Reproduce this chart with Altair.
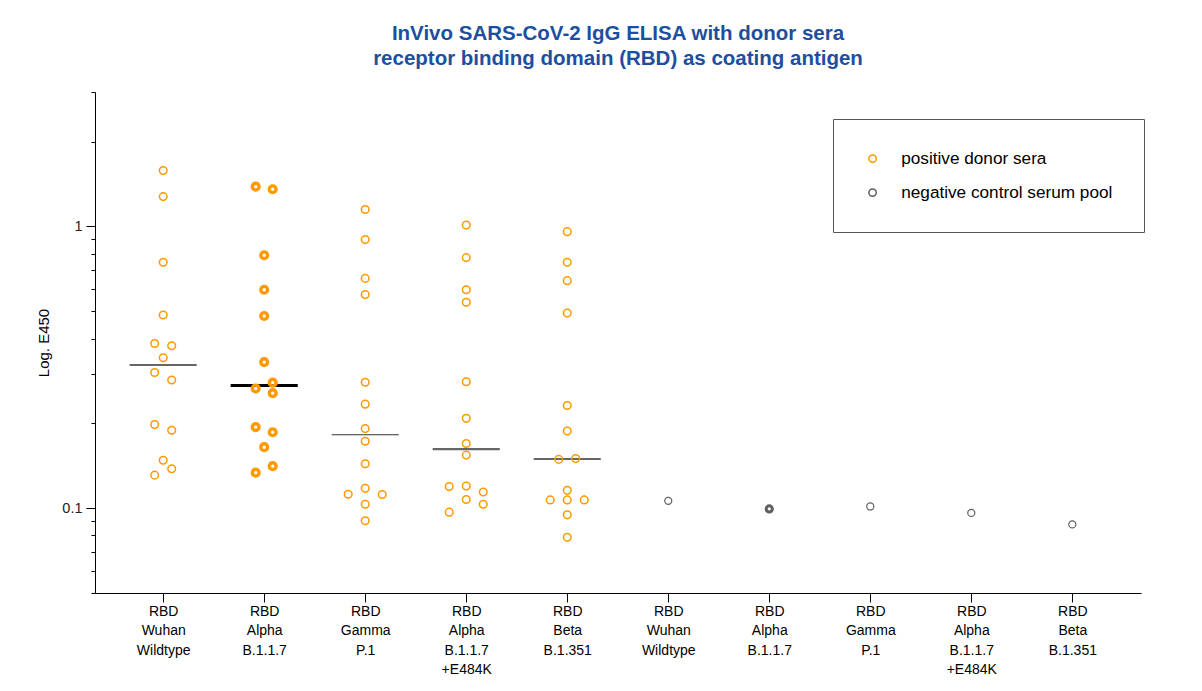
import altair as alt
import pandas as pd

# ---------------- data ----------------
tick_labels = ["RBD|Wuhan|Wildtype", "RBD|Alpha|B.1.1.7", "RBD|Gamma|P.1",
               "RBD|Alpha|B.1.1.7|+E484K", "RBD|Beta|B.1.351",
               "RBD|Wuhan|Wildtype", "RBD|Alpha|B.1.1.7", "RBD|Gamma|P.1",
               "RBD|Alpha|B.1.1.7|+E484K", "RBD|Beta|B.1.351"]
series_names = ["positive donor sera", "negative control serum pool"]

pos_wuhan = [1.58, 1.276, 0.746, 0.485, 0.384, 0.377, 0.342, 0.303, 0.285, 0.198, 0.189, 0.148, 0.138, 0.131]
pos_wuhan_slot = [0, 0, 0, 0, -1, 1, 0, -1, 1, -1, 1, 0, 1, -1]

pos_alpha = [1.384, 1.355, 0.790, 0.596, 0.481, 0.330, 0.279, 0.266, 0.256, 0.194, 0.186, 0.1646, 0.141, 0.1337]
pos_alpha_slot = [-1, 1, 0, 0, 0, 0, 1, -1, 1, -1, 1, 0, 1, -1]

pos_gamma = [1.148, 0.898, 0.654, 0.573, 0.280, 0.234, 0.1916, 0.1729, 0.1438, 0.1176, 0.112, 0.1118, 0.1033, 0.0902]
pos_gamma_slot = [0, 0, 0, 0, 0, 0, 0, 0, 0, 0, -2, 2, 0, 0]

pos_alpha_e484k = [1.011, 0.775, 0.596, 0.538, 0.281, 0.2084, 0.1696, 0.1543, 0.1193, 0.1198, 0.1142, 0.1073, 0.1033, 0.0968]
pos_alpha_e484k_slot = [0, 0, 0, 0, 0, 0, 0, 0, -2, 0, 2, 0, 2, -2]

pos_beta = [0.958, 0.746, 0.642, 0.493, 0.2315, 0.188, 0.149, 0.150, 0.1157, 0.107, 0.107, 0.107, 0.0947, 0.0788]
pos_beta_slot = [0, 0, 0, 0, 0, 0, -1, 1, 0, -2, 0, 2, 0, 0]

neg_pool = [0.1062, 0.0994, 0.1014, 0.0962, 0.0876]

y_major = [0.1, 1]
y_minor = [0.05, 0.06, 0.07, 0.08, 0.09, 0.2, 0.3, 0.4, 0.5, 0.6, 0.7, 0.8, 0.9, 2, 3]

# ---------------- table ----------------
pos_values = [pos_wuhan, pos_alpha, pos_gamma, pos_alpha_e484k, pos_beta]
pos_slots = [pos_wuhan_slot, pos_alpha_slot, pos_gamma_slot, pos_alpha_e484k_slot, pos_beta_slot]
rows = []
for i, (vals, slots) in enumerate(zip(pos_values, pos_slots)):
    for v, s in zip(vals, slots):
        rows.append({"idx": i, "value": v, "slot": s, "group": series_names[0]})
for j, v in enumerate(neg_pool):
    rows.append({"idx": 5 + j, "value": v, "slot": 0, "group": series_names[1]})
df = pd.DataFrame(rows)

label_array = "[" + ",".join("'" + t + "'" for t in tick_labels) + "]"
FONT = "Liberation Sans"

x_scale = alt.Scale(domain=[-0.675, 9.68], nice=False, zero=False)
y_scale = alt.Scale(type="log", domain=[0.05, 3], nice=False)

x_axis = alt.Axis(
    values=list(range(10)),
    labelExpr=f"split({label_array}[datum.value], '|')",
    title=None, grid=False, labelAngle=0, labelFont=FONT, labelFontSize=14,
    labelColor="black", labelLineHeight=19.5, labelBaseline="top", labelPadding=2,
    tickSize=9, tickColor="black", domainColor="black", labelOverlap=False,
    labelFlush=False,
)
y_axis = alt.Axis(
    values=y_minor + y_major,
    labelExpr="datum.value == 1 ? '1' : (datum.value == 0.1 ? '0.1' : '')",
    tickSize={"condition": {"test": "datum.value == 1 || datum.value == 0.1", "value": 9}, "value": 4},
    title="Log. E450", titleFont=FONT, titleFontSize=15, titleFontWeight="normal",
    titleColor="black", titlePadding=10, grid=False, labelFont=FONT, labelFontSize=14.5,
    labelColor="#222222", labelPadding=4, tickColor="black", domainColor="black",
    labelOverlap=False,
)

base = alt.Chart(df)

medians = base.transform_filter(
    alt.datum.group == series_names[0]
).transform_aggregate(
    med="median(value)", groupby=["idx"]
).transform_calculate(
    x1="datum.idx - 0.332", x2="datum.idx + 0.332"
).mark_rule().encode(
    x=alt.X("x1:Q", scale=x_scale, axis=x_axis),
    x2="x2:Q",
    y=alt.Y("med:Q", scale=y_scale, axis=y_axis),
    color={"value": "#333333", "condition": [
        {"test": "datum.idx == 1", "value": "#000000"},
        {"test": "datum.idx == 3", "value": "#666666"}]},
    strokeWidth={"value": 1.5, "condition": [
        {"test": "datum.idx == 1", "value": 3.2},
        {"test": "datum.idx == 3", "value": 2.2},
        {"test": "datum.idx == 2", "value": 1.2}]},
)

points = base.transform_calculate(
    xpos="datum.idx + datum.slot * 0.0842"
).mark_point(filled=False, shape="circle", opacity=1).encode(
    x=alt.X("xpos:Q", scale=x_scale, axis=x_axis),
    y=alt.Y("value:Q", scale=y_scale, axis=y_axis),
    color=alt.Color("group:N", scale=alt.Scale(domain=series_names, range=["#FF9900", "#5f5f5f"]),
                    legend=alt.Legend(
                        title=None, orient="none", legendX=738, legendY=27, padding=31,
                        strokeColor="#555555", fillColor="white", labelFont=FONT,
                        labelFontSize=17.2, labelColor="black", labelOffset=20,
                        labelLimit=500, rowPadding=16, symbolType="circle", symbolSize=55,
                        symbolStrokeWidth=1.5, symbolFillColor="white")),
    strokeWidth={"value": 1.5, "condition": [
        {"test": "datum.idx == 1", "value": 3.4},
        {"test": "datum.idx == 6", "value": 3.0},
        {"test": "datum.idx >= 5", "value": 1.2}]},
    size={"value": 58, "condition": [
        {"test": "datum.idx == 1", "value": 46},
        {"test": "datum.idx == 6", "value": 38},
        {"test": "datum.idx >= 5", "value": 50}]},
)

chart = alt.layer(medians, points).properties(
    width=1046, height=501,
    title=alt.TitleParams(
        text=["InVivo SARS-CoV-2 IgG ELISA with donor sera",
              "receptor binding domain (RBD) as coating antigen"],
        font=FONT, fontSize=20.5, fontWeight="bold", color="#1c4f9f",
        anchor="middle", lineHeight=25, offset=15),
    autosize=alt.AutoSizeParams(type="none"),
    padding={"left": 87, "top": 84, "right": 53, "bottom": 98},
).configure(background="white", font=FONT).configure_view(strokeWidth=0, stroke="transparent")

chart.save("out.html", embed_options={"renderer": "svg", "actions": False})
